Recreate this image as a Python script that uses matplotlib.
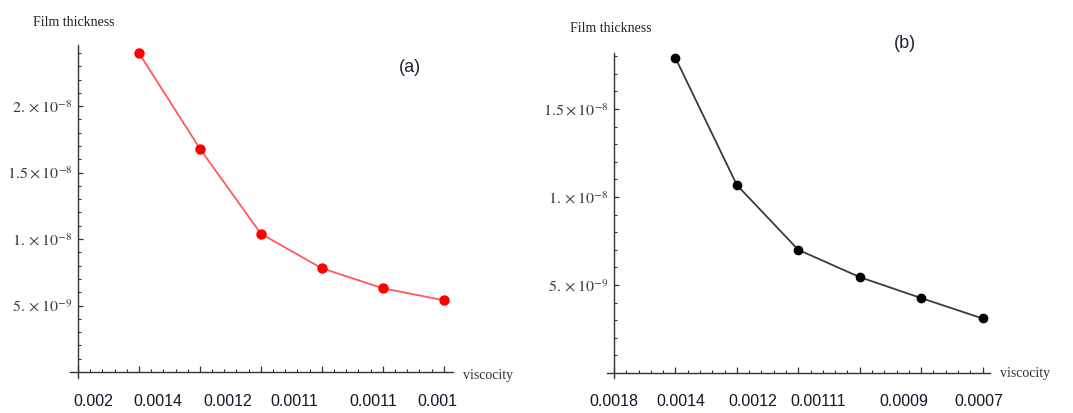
import matplotlib
matplotlib.use("Agg")
import matplotlib.pyplot as plt
import matplotlib.transforms as mtransforms
from matplotlib.ticker import MultipleLocator

# Film thickness against viscosity, two fluids
steps = [1, 2, 3, 4, 5, 6]

thickness_a = [2.40e-8, 1.68e-8, 1.04e-8, 0.78e-8, 0.63e-8, 0.54e-8]
thickness_b = [1.79e-8, 1.068e-8, 0.70e-8, 0.545e-8, 0.426e-8, 0.31e-8]

viscosity_labels_a = ["0.002", "0.0014", "0.0012", "0.0011", "0.0011", "0.001"]
viscosity_labels_b = ["0.0018", "0.0014", "0.0012", "0.00111", "0.0009", "0.0007"]

ytick_vals_a = [5e-9, 1e-8, 1.5e-8, 2e-8]
ytick_text_a = [r"$5.\times10^{-9}$", r"$1.\times10^{-8}$", r"$1.5\times10^{-8}$", r"$2.\times10^{-8}$"]
ytick_vals_b = [5e-9, 1e-8, 1.5e-8]
ytick_text_b = [r"$5.\times10^{-9}$", r"$1.\times10^{-8}$", r"$1.5\times10^{-8}$"]

plt.rcParams["mathtext.fontset"] = "stix"
plt.rcParams["font.family"] = ["Liberation Serif", "DejaVu Serif"]

W, H = 1073, 413
fig = plt.figure(figsize=(W / 100, H / 100), dpi=100)


def px_axes(left, right, top, bottom):
    return fig.add_axes([left / W, 1 - bottom / H, (right - left) / W, (bottom - top) / H])


def style_axes(ax, xlim, ylim, yvals, ytexts, ypad):
    ax.set_xlim(*xlim)
    ax.set_ylim(*ylim)
    for side in ("top", "right"):
        ax.spines[side].set_visible(False)
    for side in ("left", "bottom"):
        ax.spines[side].set_position(("data", 0))
        ax.spines[side].set_color("#333333")
        ax.spines[side].set_linewidth(1.0)
    ax.xaxis.set_major_locator(MultipleLocator(1))
    ax.xaxis.set_minor_locator(MultipleLocator(0.2))
    ax.yaxis.set_minor_locator(MultipleLocator(1e-9))
    ax.set_yticks(yvals)
    ax.set_yticklabels(ytexts)
    ax.set_xticklabels([])
    ax.tick_params(axis="x", which="major", direction="in", length=4.5, width=0.9, color="#333333")
    ax.tick_params(axis="x", which="minor", direction="in", length=2.2, width=0.8, color="#333333")
    ax.tick_params(axis="y", which="major", direction="in", length=3.5, width=0.9, color="#333333",
                   pad=ypad, labelsize=11.5, labelcolor="#3a3a3a")
    ax.tick_params(axis="y", which="minor", direction="in", length=2.0, width=0.8, color="#333333")
    ax.patch.set_alpha(0)


def category_labels(ax, positions, labels):
    trans = mtransforms.blended_transform_factory(ax.transData, fig.transFigure)
    for p, lab in zip(positions, labels):
        ax.text(p, 1 - 401 / H, lab, transform=trans, ha="center", va="center",
                fontsize=11.5, family=["Liberation Sans"], color="#15152a")


# Panel (a)
ax_a = px_axes(70, 453, 45, 378)
style_axes(ax_a, (-0.13, 6.15), (-0.045e-8, 2.46e-8), ytick_vals_a, ytick_text_a, 4)
ax_a.plot(steps, thickness_a, color="#ff5a5a", lw=1.3, zorder=2)
ax_a.plot(steps, thickness_a, "o", color="#ff0000", ms=6.5, mec="#ff0000", zorder=3)
category_labels(ax_a, [0.26, 1.31, 2.46, 3.54, 4.84, 5.9], viscosity_labels_a)
fig.text(33 / W, 1 - 23 / H, "Film thickness", fontsize=10, va="center", ha="left", color="#222222")
fig.text(463 / W, 1 - 375 / H, "viscocity", fontsize=10, va="center", ha="left", color="#333333")
fig.text(410 / W, 1 - 68 / H, "(a)", fontsize=13, va="center", ha="center",
         family=["Liberation Sans"], color="#222233")

# Panel (b)
ax_b = px_axes(607, 990, 53, 378)
style_axes(ax_b, (-0.114, 6.12), (-0.028e-8, 1.818e-8), ytick_vals_b, ytick_text_b, 4)
ax_b.plot(steps, thickness_b, color="#3a3a3a", lw=1.3, zorder=2)
ax_b.plot(steps, thickness_b, "o", color="#000000", ms=6, zorder=3)
category_labels(ax_b, [0.0, 1.09, 2.26, 3.32, 4.72, 5.93], viscosity_labels_b)
fig.text(570 / W, 1 - 29 / H, "Film thickness", fontsize=10, va="center", ha="left", color="#222222")
fig.text(1000 / W, 1 - 373 / H, "viscocity", fontsize=10, va="center", ha="left", color="#333333")
fig.text(905 / W, 1 - 43 / H, "(b)", fontsize=13, va="center", ha="center",
         family=["Liberation Sans"], color="#222233")

fig.savefig("out.png", dpi=100)
